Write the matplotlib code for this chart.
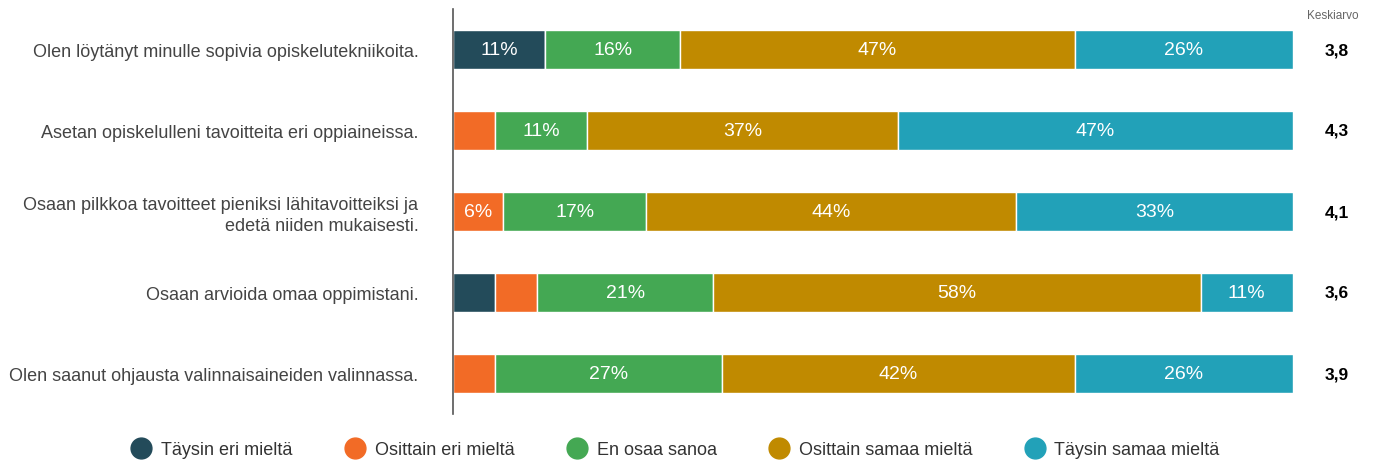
import matplotlib.pyplot as plt
from matplotlib.lines import Line2D

plt.rcParams["font.family"] = ["Liberation Sans", "DejaVu Sans"]

questions = [
    "Olen löytänyt minulle sopivia opiskelutekniikoita.",
    "Asetan opiskelulleni tavoitteita eri oppiaineissa.",
    "Osaan pilkkoa tavoitteet pieniksi lähitavoitteiksi ja\nedetä niiden mukaisesti.",
    "Osaan arvioida omaa oppimistani.",
    "Olen saanut ohjausta valinnaisaineiden valinnassa.",
]
categories = ["Täysin eri mieltä", "Osittain eri mieltä", "En osaa sanoa",
              "Osittain samaa mieltä", "Täysin samaa mieltä"]
colors = ["#234b5a", "#f26b26", "#44a853", "#c08a00", "#22a1b8"]

tays_eri = [11, 0, 0, 5, 0]
osit_eri = [0, 5, 6, 5, 5]
en_osaa = [16, 11, 17, 21, 27]
osit_samaa = [47, 37, 44, 58, 42]
tays_samaa = [26, 47, 33, 11, 26]
means = ["3,8", "4,3", "4,1", "3,6", "3,9"]

series = [tays_eri, osit_eri, en_osaa, osit_samaa, tays_samaa]

fig = plt.figure(figsize=(13.76, 4.64), dpi=100)
ax = fig.add_axes([453 / 1376, 1 - 415 / 464, 840 / 1376, 405 / 464])

ypos = list(range(len(questions)))
left = [0] * len(questions)
for vals, col in zip(series, colors):
    ax.barh(ypos, vals, left=left, height=0.47, color=col, edgecolor="white", linewidth=1)
    for i, v in enumerate(vals):
        if v >= 6:
            ax.text(left[i] + v / 2, i, f"{v}%", ha="center", va="center",
                    color="white", fontsize=14)
    left = [l + v for l, v in zip(left, vals)]

ax.set_xlim(0, 100)
ax.set_ylim(len(questions) - 0.5, -0.5)
ax.set_yticks(ypos)
ax.set_yticklabels(questions, fontsize=13, color="#444444", linespacing=1.3)
ax.tick_params(axis="y", length=0, pad=25)
ax.set_xticks([])
for s in ["top", "right", "bottom"]:
    ax.spines[s].set_visible(False)
ax.spines["left"].set_color("#555555")
ax.spines["left"].set_linewidth(1.2)

for i, m in enumerate(means):
    ax.text(1.052, i, m, transform=ax.get_yaxis_transform(), ha="center", va="center",
            fontsize=12.5, fontweight="bold", color="black")
fig.text(1333 / 1376, 1 - 16 / 464, "Keskiarvo", ha="center", va="center",
         fontsize=8.5, color="#666666")

handles = [Line2D([], [], marker="o", linestyle="", markersize=15, color=c) for c in colors]
fig.legend(handles, categories, loc="center", bbox_to_anchor=(0.488, 1 - 451 / 464),
           ncol=5, frameon=False, fontsize=13, handletextpad=0.1, columnspacing=2.45,
           labelcolor="#333333")

fig.savefig("out.png", dpi=100)
